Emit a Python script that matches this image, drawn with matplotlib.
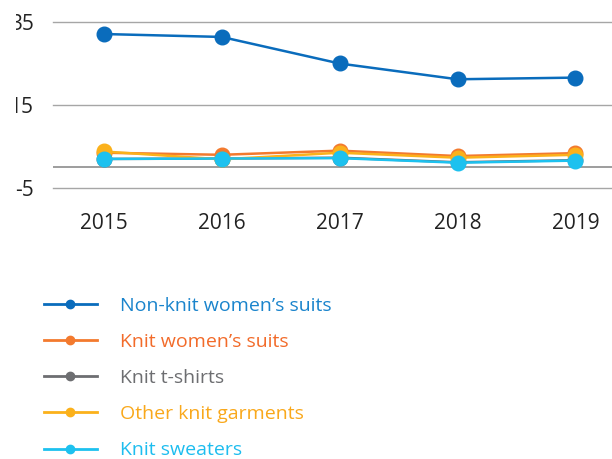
import matplotlib
matplotlib.use("Agg")
import matplotlib.pyplot as plt
from matplotlib.patches import Rectangle

years = [2015, 2016, 2017, 2018, 2019]
series_names = ["Non-knit women\u2019s suits", "Knit women\u2019s suits", "Knit t-shirts",
                "Other knit garments", "Knit sweaters"]
nonknit = [32.1, 31.4, 25.0, 21.2, 21.6]
knit_women = [3.5, 3.0, 4.0, 2.7, 3.4]
tshirts = [2.0, 2.1, 2.3, 1.2, 1.7]
other_knit = [3.8, 1.9, 3.5, 2.3, 3.0]
sweaters = [2.0, 2.1, 2.2, 1.1, 1.6]
yticks = [-5, 15, 35]

colors = ["#0a6cbc", "#f37a2e", "#6d6e71", "#fbb11b", "#1dc1ef"]
label_colors = ["#1a84cc", "#f26b2a", "#6d6e71", "#f9a81b", "#1dbdef"]

plt.rcParams['font.family'] = ['Open Sans', 'DejaVu Sans']

fig = plt.figure(figsize=(6.12, 4.59), dpi=100)
ax = fig.add_axes([53/612, 1 - 188/459, 1 - 53/612, 188/459])

data = [nonknit, knit_women, tshirts, other_knit, sweaters]
handles = []
for vals, c, name in zip(data, colors, series_names):
    ax.plot(years, vals, color=c, lw=1.8, marker='o', ms=10.5, zorder=3, clip_on=False)
    h, = plt.plot([], [], color=c, lw=2.0, marker='o', ms=6.0, label=name)
    handles.append(h)

ax.set_xlim(2014.57, 2019.31)
ax.set_ylim(-5, 40.3)
for y in yticks:
    ax.axhline(y, color="#a6a6a6", lw=1.0, zorder=1, clip_on=False)
ax.axhline(0, color="#8c8c8c", lw=1.2, zorder=1)

ax.set_yticks(yticks)
ax.set_yticklabels([str(v) for v in yticks])
ax.set_xticks(years)
ax.set_xticklabels([str(y) for y in years])
ax.tick_params(axis='both', length=0, labelsize=15, colors="#222222")
ax.tick_params(axis='y', pad=14)
ax.tick_params(axis='x', pad=18)
for s in ax.spines.values():
    s.set_visible(False)
ax.set_facecolor('none')

# left crop of the original image
fig.add_artist(Rectangle((0, 1 - 120/459), 15.5/612, 120/459, transform=fig.transFigure,
                         facecolor='white', edgecolor='none', zorder=10))

leg = fig.legend(handles=handles, loc='upper left', bbox_to_anchor=(44/612, 1 - 297/459),
                 frameon=False, fontsize=14, handlelength=2.7, handletextpad=1.2,
                 labelspacing=0.93, borderaxespad=0, borderpad=0)
for t, c in zip(leg.get_texts(), label_colors):
    t.set_color(c)

fig.savefig("out.png", dpi=100)
